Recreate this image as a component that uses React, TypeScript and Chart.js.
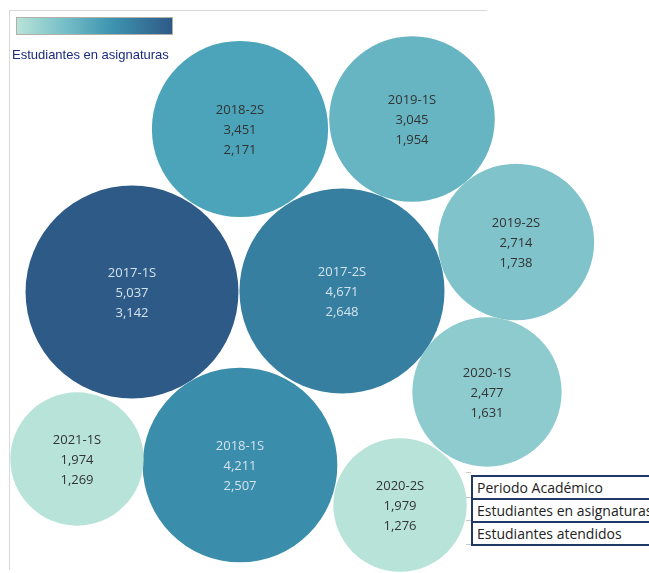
import React, { useEffect, useRef } from "react";
import { Chart, registerables } from "chart.js";

Chart.register(...registerables);

// Data
const periods = ["2017-1S", "2017-2S", "2018-1S", "2018-2S", "2019-1S", "2019-2S", "2020-1S", "2020-2S", "2021-1S"];
const enrolled = [5037, 4671, 4211, 3451, 3045, 2714, 2477, 1979, 1974];
const attended = [3142, 2648, 2507, 2171, 1954, 1738, 1631, 1276, 1269];

// Packed-bubble layout (layout units)
const layoutX = [132, 342, 240, 240, 412, 516, 487, 400, 77];
const layoutY = [292, 291, 465, 129, 119, 242, 392, 505, 459];

// Styles
const fillColors = ["#2e5a87", "#367fa0", "#3a8dab", "#4ba4b9", "#67b4c3", "#80c3cb", "#8ecbcf", "#b8e3d8", "#b8e3d8"];
const textColors = ["#d4e3ee", "#d4e3ee", "#d4e3ee", "#333333", "#333333", "#333333", "#333333", "#333333", "#333333"];
const tableRows = ["Periodo Académico", "Estudiantes en asignaturas", "Estudiantes atendidos"];
const legendTitle = "Estudiantes en asignaturas";

const W = 649;
const H = 573;
const SIZE_K = 1.5;

const fmt = (n: number) => n.toLocaleString("en-US");

const labelPlugin = {
  id: "bubbleLabels",
  afterDatasetsDraw(chart: any) {
    const ctx = chart.ctx;
    const meta = chart.getDatasetMeta(0);
    ctx.save();
    ctx.font = '13px "Open Sans", sans-serif';
    ctx.textAlign = "center";
    ctx.textBaseline = "middle";
    meta.data.forEach((el: any, i: number) => {
      ctx.fillStyle = textColors[i];
      const lines = [periods[i], fmt(enrolled[i]), fmt(attended[i])];
      lines.forEach((t, k) => {
        ctx.fillText(t, el.x, el.y + 1 + (k - 1) * 20);
      });
    });
    ctx.restore();
  },
};

export default function App() {
  const ref = useRef<HTMLCanvasElement>(null);
  useEffect(() => {
    if (!ref.current) return;
    const chart: any = new Chart(ref.current, {
      type: "bubble",
      data: {
        datasets: [
          {
            data: periods.map((p, i) => ({ x: layoutX[i], y: layoutY[i], r: SIZE_K * Math.sqrt(enrolled[i]) })),
            backgroundColor: fillColors,
            borderWidth: 0,
            hoverBorderWidth: 0,
            clip: false,
          } as any,
        ],
      },
      options: {
        responsive: false,
        animation: false,
        devicePixelRatio: 1,
        layout: { padding: 0 },
        plugins: { legend: { display: false }, tooltip: { enabled: false } },
        scales: {
          x: { type: "linear", min: 0, max: W, display: false },
          y: { type: "linear", min: 0, max: H, reverse: true, display: false },
        },
      },
      plugins: [labelPlugin],
    });
    // make the layout units coincide with canvas pixels
    const area = chart.chartArea;
    chart.options.scales.x.min = area.left;
    chart.options.scales.x.max = area.right;
    chart.options.scales.y.min = area.top;
    chart.options.scales.y.max = area.bottom;
    chart.update();
    return () => chart.destroy();
  }, []);

  return (
    <div style={{ position: "absolute", left: 0, top: 0, width: W, height: H, overflow: "hidden", background: "#fff" }}>
      {/* frame lines */}
      <div style={{ position: "absolute", left: 9, top: 10, width: 478, height: 1, background: "#d9d9d9" }} />
      <div style={{ position: "absolute", left: 9, top: 10, width: 1, height: 560, background: "#d9d9d9" }} />
      <canvas ref={ref} width={W} height={H} style={{ position: "absolute", left: 0, top: 0, width: W, height: H }} />
      {/* colour legend */}
      <div
        style={{
          position: "absolute",
          left: 16,
          top: 17,
          width: 155,
          height: 16,
          border: "1px solid #b0b0a8",
          background: "linear-gradient(to right, #b8e3d8 0%, #78bfc8 30%, #3e96b1 60%, #2e5a87 100%)",
        }}
      />
      <div
        style={{
          position: "absolute",
          left: 12,
          top: 47,
          font: '13px "Liberation Sans", Arial, sans-serif',
          color: "#1a2a80",
          whiteSpace: "nowrap",
        }}
      >
        {legendTitle}
      </div>
      {/* label key table */}
      <div style={{ position: "absolute", left: 471, top: 475, width: 200, border: "2px solid #1f3864", borderRight: "none", background: "#fff" }}>
        {tableRows.map((t, i) => (
          <div
            key={t}
            style={{
              height: 21,
              borderTop: i > 0 ? "2px solid #1f3864" : "none",
              paddingLeft: 4,
              font: '14px "Open Sans", sans-serif',
              lineHeight: "21px",
              color: "#222",
              whiteSpace: "nowrap",
            }}
          >
            {t}
          </div>
        ))}
      </div>
      {[472, 497, 520, 544].map((y) => (
        <div key={y} style={{ position: "absolute", left: 466, top: y, width: 5, height: 1, background: "#c8c8c8" }} />
      ))}
    </div>
  );
}
